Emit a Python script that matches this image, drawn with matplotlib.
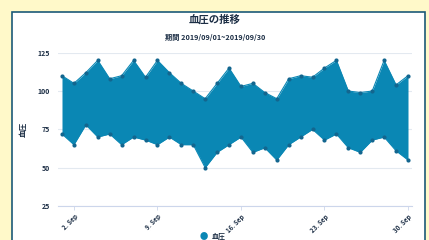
import matplotlib
matplotlib.use("Agg")
import matplotlib.pyplot as plt
from matplotlib.patches import Rectangle

plt.rcParams['font.family'] = ['Noto Sans CJK JP', 'DejaVu Sans']

days = list(range(1, 31))
high = [110, 105, 112, 120, 108, 110, 120, 109, 120, 112, 105, 100, 95, 105, 115,
        103, 105, 99, 95, 108, 110, 109, 115, 120, 100, 99, 100, 120, 104, 110]
low = [72, 65, 78, 70, 72, 65, 70, 68, 65, 70, 65, 65, 50, 60, 65,
       70, 60, 63, 55, 65, 70, 75, 68, 72, 63, 60, 68, 70, 61, 55]
tick_days = [2, 9, 16, 23, 30]
tick_labels = ["2. Sep", "9. Sep", "16. Sep", "23. Sep", "30. Sep"]
yticks = [25, 50, 75, 100, 125]

fill_color = "#0a87b4"
dot_color = "#13668f"
text_color = "#1c2e45"

fig = plt.figure(figsize=(4.29, 2.4), dpi=100)
fig.patch.set_facecolor("#fff9c9")

# white panel with border
panel = Rectangle((12 / 429, -0.05), 413 / 429, 1 - 12 / 240 + 0.05,
                  transform=fig.transFigure, facecolor="white",
                  edgecolor="#1b5a78", linewidth=1.2, zorder=-5)
fig.patches.append(panel)

ax = fig.add_axes([58 / 429, 1 - 206 / 240, 354 / 429, 153.3 / 240])
ax.set_zorder(1)
ax.set_facecolor("none")
ax.fill_between(days, low, high, color=fill_color, linewidth=0, zorder=2)
ax.plot(days, high, color=fill_color, linewidth=0.8, zorder=3)
ax.plot(days, low, color=fill_color, linewidth=0.8, zorder=3)
ax.scatter(days, high, s=9, color=dot_color, zorder=4, linewidths=0)
ax.scatter(days, low, s=9, color=dot_color, zorder=4, linewidths=0)

ax.set_xlim(0.665, 30.335)
ax.set_ylim(25, 125)
ax.set_yticks(yticks)
ax.set_yticklabels([str(v) for v in yticks], fontsize=5, fontweight="bold", color=text_color)
ax.set_xticks(tick_days)
ax.set_xticklabels(tick_labels, fontsize=4.5, fontweight="bold", color=text_color,
                   rotation=45, ha="right", rotation_mode="anchor")
ax.tick_params(axis="y", length=0, pad=6)
ax.tick_params(axis="x", length=3, width=0.6, color="#ccd6eb", pad=2)
ax.grid(axis="y", color="#e3e9f0", linewidth=0.8, zorder=1)
ax.set_axisbelow(True)
for s in ["top", "right", "left"]:
    ax.spines[s].set_visible(False)
ax.spines["bottom"].set_color("#ccd6eb")
ax.spines["bottom"].set_linewidth(0.8)
ax.set_ylabel("血圧", fontsize=5.5, fontweight="bold", color=text_color)
ax.yaxis.set_label_coords(-30 / 354, 0.5)

fig.text(215 / 429, 1 - 20 / 240, "血圧の推移", ha="center", va="center",
         fontsize=7.5, fontweight="bold", color=text_color)
fig.text(215 / 429, 1 - 37 / 240, "期間 2019/09/01~2019/09/30", ha="center", va="center",
         fontsize=5.2, fontweight="bold", color=text_color)

# legend
fig.text(204 / 429, 1 - 236 / 240, "●", ha="center", va="center",
         fontsize=6, color=fill_color)
fig.text(212 / 429, 1 - 236 / 240, "血圧", ha="left", va="center",
         fontsize=5, fontweight="bold", color=text_color)

fig.savefig("out.png", dpi=100, facecolor=fig.get_facecolor())
